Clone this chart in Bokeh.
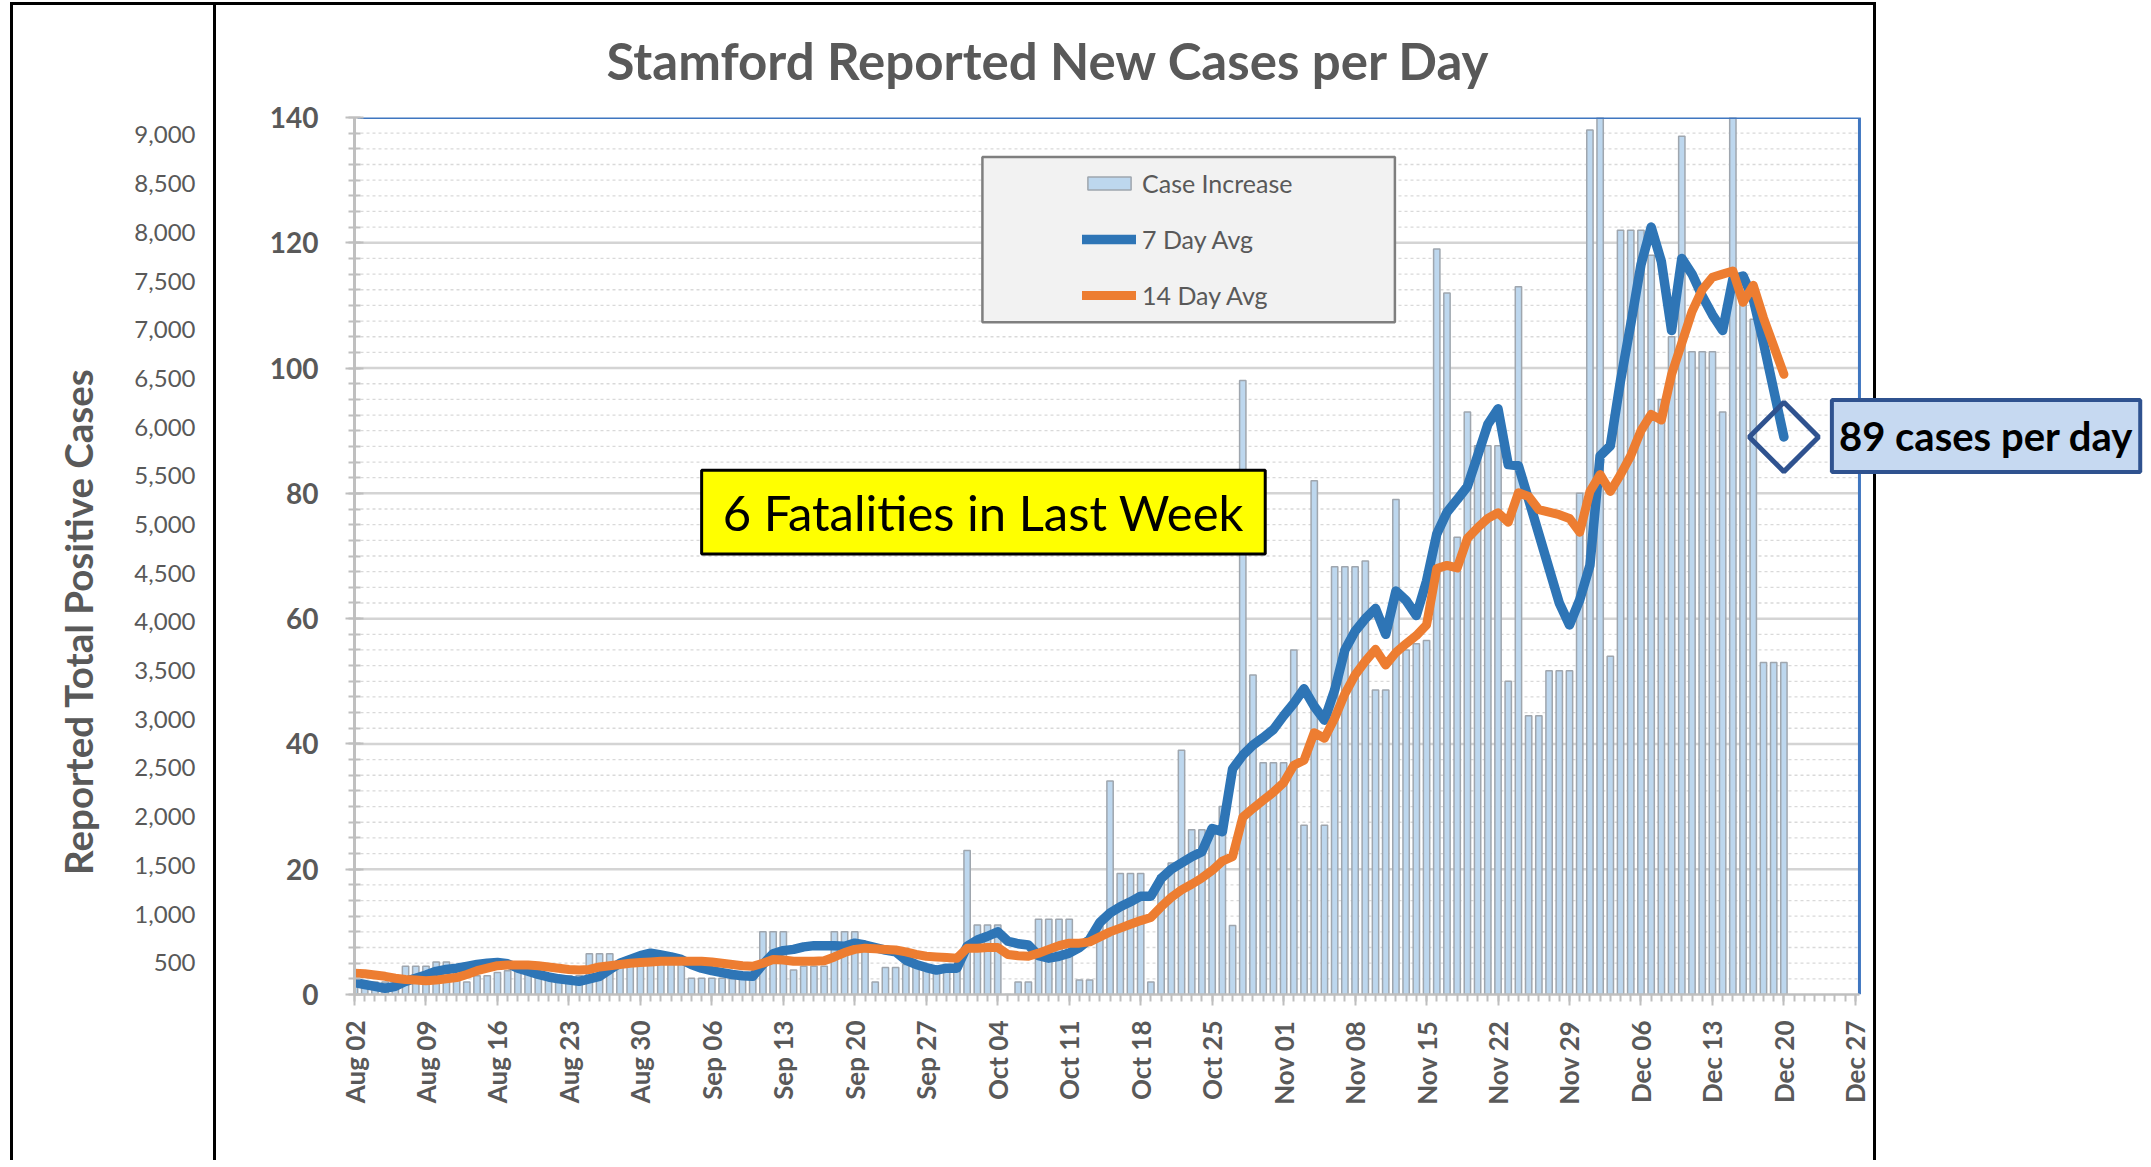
import math
from bokeh.plotting import figure
from bokeh.models import (Range1d, LinearAxis, FixedTicker, Legend, LegendItem,
                          BoxAnnotation, Label, NumeralTickFormatter)
from bokeh.embed import file_html
from bokeh.resources import INLINE

# ---------------- data ----------------
tick_labels = ["Aug 02", "Aug 09", "Aug 16", "Aug 23", "Aug 30", "Sep 06", "Sep 13",
               "Sep 20", "Sep 27", "Oct 04", "Oct 11", "Oct 18", "Oct 25", "Nov 01",
               "Nov 08", "Nov 15", "Nov 22", "Nov 29", "Dec 06", "Dec 13", "Dec 20", "Dec 27"]

# daily new cases, Aug 02 .. Dec 20
cases = [3, 2, 2, 2, 1, 4.5, 4.5, 4.5, 5.2, 5.2,
         4.5, 2, 3, 3, 3.5, 3.8, 3.8, 3.8, 3.5, 2.7,
         3, 3, 3, 6.5, 6.5, 6.5, 5, 5, 5, 5,
         5, 5, 5, 2.6, 2.6, 2.6, 2.6, 2.5, 2.5, 2.5,
         10, 10, 10, 3.9, 4.5, 4.5, 4.5, 10, 10, 10,
         7, 2, 4.3, 4.3, 4.8, 4.5, 4.5, 4, 4, 4,
         23, 11.1, 11.1, 11.1, 0, 2, 2, 12, 12, 12,
         12, 2.3, 2.3, 11.1, 34.1, 19.3, 19.3, 19.3, 2, 19,
         21, 39, 26.3, 26.3, 26.3, 30, 11, 98, 51, 37,
         37, 37, 55, 27, 82, 27, 68.3, 68.3, 68.3, 69.2,
         48.6, 48.6, 79, 55, 56, 56.5, 119, 112, 73, 93,
         87.6, 87.6, 87.6, 50, 113, 44.5, 44.5, 51.7, 51.7, 51.7,
         80, 138, 152, 54, 122, 122, 122, 118, 95, 105,
         137, 102.6, 102.6, 102.6, 93, 150, 114.7, 107.8, 53, 53,
         53]

avg7 = [1.9, 1.6, 1.3, 1.0, 1.3, 2.1, 2.6, 3.1, 3.7, 4.0,
        4.2, 4.5, 4.8, 5.0, 5.1, 4.9, 4.2, 3.7, 3.2, 2.8,
        2.5, 2.3, 2.1, 2.5, 2.9, 4.0, 5.0, 5.6, 6.2, 6.6,
        6.3, 6.0, 5.6, 4.8, 4.2, 3.8, 3.5, 3.2, 3.0, 2.9,
        4.8, 6.5, 7.0, 7.2, 7.6, 7.8, 7.8, 7.8, 7.7, 8.2,
        7.9, 7.5, 7.1, 6.8, 5.5, 4.8, 4.3, 3.9, 4.2, 4.2,
        7.7, 8.7, 9.3, 10.0, 8.5, 8.1, 7.9, 6.2, 5.8, 6.1,
        6.6, 7.5, 8.8, 11.5, 13.0, 14.0, 14.8, 15.7, 15.7, 18.5,
        20.0, 21.0, 22.0, 22.8, 26.5, 26.0, 36.0, 38.2, 39.8, 41.0,
        42.3, 44.5, 46.5, 48.8, 46.0, 43.8, 48.6, 55.0, 58.0, 60.0,
        61.6, 57.5, 64.4, 62.9, 60.5, 66.0, 73.5, 77.0, 79.0, 81.1,
        86.0, 91.0, 93.5, 84.6, 84.4, 79.0, 73.5, 68.0, 62.5, 59.0,
        63.0, 68.5, 86.0, 87.6, 98.0, 107.0, 116.5, 122.5, 117.0, 106.0,
        117.5, 115.0, 111.5, 108.5, 106.0, 114.2, 114.7, 111.0, 104.0, 96.5,
        89.0]

avg14 = [3.4, 3.3, 3.1, 2.9, 2.6, 2.4, 2.3, 2.2, 2.3, 2.5,
         2.7, 3.2, 3.8, 4.2, 4.6, 4.7, 4.7, 4.7, 4.6, 4.4,
         4.2, 4.0, 3.9, 4.0, 4.4, 4.6, 4.8, 5.0, 5.1, 5.2,
         5.3, 5.3, 5.3, 5.3, 5.3, 5.2, 5.0, 4.8, 4.6, 4.5,
         5.0, 5.6, 5.5, 5.3, 5.3, 5.3, 5.4, 6.0, 6.7, 7.2,
         7.4, 7.3, 7.2, 7.1, 6.8, 6.4, 6.1, 6.0, 5.9, 5.8,
         7.4, 7.4, 7.5, 7.5, 6.4, 6.2, 6.1, 6.6, 7.2, 7.8,
         8.2, 8.2, 8.4, 9.2, 10.0, 10.6, 11.2, 11.8, 12.3, 14.0,
         15.5, 16.7, 17.6, 18.6, 19.8, 21.3, 22.0, 28.3, 29.7, 31.0,
         32.3, 33.8, 36.6, 37.4, 41.8, 40.9, 44.1, 48.0, 51.0, 53.2,
         55.1, 52.6, 54.6, 56.0, 57.3, 59.0, 68.0, 68.5, 68.1, 72.8,
         74.5, 76.0, 76.9, 75.4, 80.1, 79.5, 77.4, 77.0, 76.6, 76.0,
         73.8, 80.3, 83.0, 80.3, 83.0, 86.0, 90.0, 92.6, 91.7, 99.0,
         104.0, 109.0, 112.5, 114.5, 115.0, 115.5, 110.5, 113.2, 108.0, 103.5,
         99.0]

total_ticks = [500, 1000, 1500, 2000, 2500, 3000, 3500, 4000, 4500,
               5000, 5500, 6000, 6500, 7000, 7500, 8000, 8500, 9000]
y_ticks = [0, 20, 40, 60, 80, 100, 120, 140]

days = list(range(len(cases)))
tick_days = [7 * k for k in range(len(tick_labels))]

# ---------------- style ----------------
FONT = "Lato"
GREY = "#595959"
BORDER_DAY = 147.4
W, H = 2148, 1160
LEFT, TOP, BOTTOM = 354, 117, 166
PX_PER_DAY = 10.21

p = figure(width=W, height=H, output_backend="svg", toolbar_location=None,
           x_range=Range1d(0, (W - LEFT) / PX_PER_DAY), y_range=Range1d(0, 140),
           min_border_left=LEFT, min_border_right=0, min_border_top=TOP,
           min_border_bottom=BOTTOM,
           background_fill_color=None, border_fill_color=None, outline_line_color=None)

p.styles = {"background": (
    "linear-gradient(#000,#000) 10px 2px/3px 100% no-repeat,"
    "linear-gradient(#000,#000) 213px 2px/3px 100% no-repeat,"
    "linear-gradient(#000,#000) 1873px 2px/3px 100% no-repeat,"
    "linear-gradient(#000,#000) 10px 2px/1866px 3px no-repeat,"
    "#ffffff")}

p.title.text = "Stamford Reported New Cases per Day"
p.title.align = "left"
p.title.offset = 252
p.title.text_font = FONT
p.title.text_font_size = "51px"
p.title.text_font_style = "bold"
p.title.text_color = GREY
p.title.standoff = 54

p.xgrid.visible = False
p.ygrid.visible = False

# gridlines (stop at the plot border)
minor_vals = [k * 2.5 for k in range(1, 56) if (k * 2.5) % 20 != 0]
major_vals = [v for v in y_ticks if 0 < v < 140]
p.segment(x0=0, x1=BORDER_DAY, y0=minor_vals, y1=minor_vals,
          line_color="#D9D9D9", line_width=1.3, line_dash="3 3")
p.segment(x0=0, x1=BORDER_DAY, y0=major_vals, y1=major_vals,
          line_color="#D4D4D4", line_width=2.5)

bars = p.vbar(x=days, top=cases, bottom=0, width=0.62,
              fill_color="#BDD7EE", line_color="#9FA6AE", line_width=1.5)
l7 = p.line(days, avg7, line_color="#2E75B6", line_width=9.5,
            line_join="round", line_cap="round")
l14 = p.line(days, avg14, line_color="#ED7D31", line_width=9,
             line_join="round", line_cap="round")

# blue plot border (top and right)
p.line([0.3, BORDER_DAY, BORDER_DAY], [140, 140, 0], line_color="#3F76C0", line_width=3)

# diamond on the last 7-day value
p.scatter([days[-1]], [avg7[-1]], marker="square", angle=math.pi / 4, size=49,
          fill_color=None, line_color="#2F528F", line_width=5)

# ---------------- axes ----------------
xa = p.xaxis[0]
xa.ticker = FixedTicker(ticks=tick_days, minor_ticks=list(range(0, 148)))
xa.major_label_overrides = {d: lab for d, lab in zip(tick_days, tick_labels)}
xa.major_label_orientation = math.pi / 2
xa.bounds = (0, BORDER_DAY)
xa.axis_line_color = "#BFBFBF"
xa.axis_line_width = 2.5
xa.major_tick_line_color = "#BFBFBF"
xa.major_tick_line_width = 2
xa.major_tick_in = 0
xa.major_tick_out = 11
xa.minor_tick_line_color = "#BFBFBF"
xa.minor_tick_line_width = 2
xa.minor_tick_in = 0
xa.minor_tick_out = 7
xa.major_label_text_font = FONT
xa.major_label_text_font_size = "26px"
xa.major_label_text_font_style = "bold"
xa.major_label_text_color = GREY
xa.major_label_standoff = 15

ya = p.yaxis[0]
ya.ticker = FixedTicker(ticks=y_ticks, minor_ticks=[k * 2.5 for k in range(0, 57)])
ya.bounds = (0, 140)
ya.axis_line_color = "#BFBFBF"
ya.axis_line_width = 3
ya.major_tick_line_color = "#BFBFBF"
ya.major_tick_line_width = 2
ya.major_tick_in = 9
ya.major_tick_out = 9
ya.minor_tick_line_color = "#BFBFBF"
ya.minor_tick_line_width = 2
ya.minor_tick_in = 6
ya.minor_tick_out = 6
ya.major_label_text_font = FONT
ya.major_label_text_font_size = "28px"
ya.major_label_text_font_style = "bold"
ya.major_label_text_color = GREY
ya.major_label_standoff = 27

# secondary (total cases) scale: 500 units = 48.66 px
p.extra_y_ranges = {"total": Range1d(173.6, 9179)}
sec = LinearAxis(y_range_name="total",
                 ticker=FixedTicker(ticks=total_ticks, minor_ticks=[]),
                 formatter=NumeralTickFormatter(format="0,0"),
                 axis_line_color=None, major_tick_line_color=None, minor_tick_line_color=None,
                 major_tick_in=0, major_tick_out=0, minor_tick_in=0, minor_tick_out=0,
                 major_label_text_font=FONT, major_label_text_font_size="24px",
                 major_label_text_color=GREY, major_label_standoff=71,
                 axis_label="Reported Total Positive Cases" + "\u00a0" * 14,
                 axis_label_standoff=30,
                 axis_label_text_font=FONT, axis_label_text_font_size="38.5px",
                 axis_label_text_font_style="bold", axis_label_text_color=GREY)
p.add_layout(sec, "left")

# ---------------- annotations ----------------
p.add_layout(BoxAnnotation(left=61.5, right=101.9, bottom=107.3, top=133.7,
                           fill_color="#F2F2F2", fill_alpha=1.0,
                           line_color="#7F7F7F", line_width=2.5, line_alpha=1.0))

legend = Legend(items=[LegendItem(label="Case Increase", renderers=[bars]),
                       LegendItem(label="7 Day Avg", renderers=[l7]),
                       LegendItem(label="14 Day Avg", renderers=[l14])],
                location=(728, 683), padding=0, margin=0, spacing=23,
                glyph_width=54, glyph_height=16, label_height=33, label_standoff=6,
                label_text_font=FONT, label_text_font_size="25px", label_text_color=GREY,
                background_fill_alpha=0, border_line_color=None)
p.add_layout(legend)

p.add_layout(BoxAnnotation(left=34.0, right=89.2, bottom=70.3, top=83.7,
                           fill_color="#FFFF00", fill_alpha=1.0,
                           line_color="#000000", line_width=3, line_alpha=1.0))
p.add_layout(Label(x=61.6, y=77.0, text="6 Fatalities in Last Week",
                   text_align="center", text_baseline="middle",
                   text_font=FONT, text_font_size="49px", text_color="#000000"))

p.add_layout(BoxAnnotation(left=144.7, right=174.9, bottom=83.4, top=94.9,
                           fill_color="#C6D9F1", fill_alpha=1.0,
                           line_color="#2F528F", line_width=4, line_alpha=1.0))
p.add_layout(Label(x=159.8, y=89.2, text=f"{round(avg7[-1])} cases per day",
                   text_align="center", text_baseline="middle",
                   text_font=FONT, text_font_size="40px", text_font_style="bold",
                   text_color="#000000"))

open("out.html", "w").write(file_html(p, INLINE))
